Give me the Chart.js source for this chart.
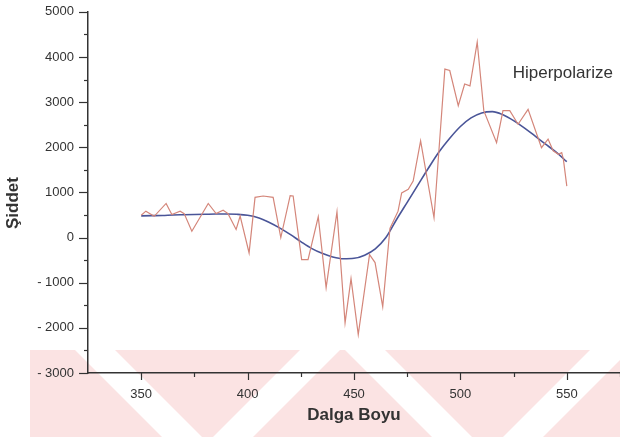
<!DOCTYPE html>
<html>
<head>
<meta charset="utf-8">
<script src="https://cdn.jsdelivr.net/npm/chart.js@4/dist/chart.umd.min.js"></script>
<style>
  html, body { margin: 0; padding: 0; background: #ffffff; }
  #c { display: block; }
</style>
</head>
<body>
<canvas id="c" width="620" height="437"></canvas>
<script>
// Measured spectrum (red)
const wavelength = [350, 352.2, 356.1, 361.7, 364.4, 368.3, 370.2, 373.8, 381.5, 385.2, 388.5, 390.8, 394.6, 396.5, 400.7, 403.5, 407.3, 412, 415.6, 420, 421.4, 425.4, 428.4, 433.2, 436.9, 442, 445.8, 448.6, 452, 457.3, 459.9, 463.5, 466.9, 470.7, 472.4, 475.5, 477.8, 481.3, 487.6, 492.7, 495, 499, 502, 504.5, 507.9, 511, 517, 520, 523.2, 527.1, 531.8, 538.1, 541.2, 543.6, 546, 547.6, 548.4, 550];
const intensity = [495, 585, 470, 755, 510, 585, 530, 140, 755, 530, 605, 530, 180, 475, -340, 890, 920, 890, 0, 930, 920, -490, -490, 460, -1110, 570, -1890, -910, -2150, -380, -555, -1530, 200, 585, 990, 1070, 1250, 2140, 440, 3730, 3700, 2920, 3400, 3360, 4330, 2810, 2100, 2810, 2810, 2510, 2840, 1990, 2180, 1920, 1845, 1880, 1730, 1140];

// Smooth fit (blue)
const fitWavelength = [350, 355, 360, 365, 370, 375, 380, 385, 390, 395, 400, 405, 410, 415, 420, 425, 430, 435, 440, 445, 450, 455, 460, 465, 470, 475, 480, 485, 490, 495, 500, 505, 510, 515, 520, 525, 530, 535, 540, 545, 550];
const fitIntensity = [480, 485, 490, 500, 505, 510, 515, 520, 520, 515, 495, 440, 340, 215, 70, -90, -240, -350, -430, -470, -460, -390, -250, 0, 400, 780, 1160, 1540, 1900, 2200, 2460, 2650, 2760, 2790, 2720, 2590, 2430, 2250, 2070, 1890, 1680];

const yTickValues = [-3000, -2000, -1000, 0, 1000, 2000, 3000, 4000, 5000];
const xTickValues = [350, 400, 450, 500, 550];

const xTitle = 'Dalga Boyu';
const yTitle = 'Şiddet';
const seriesLabel = 'Hiperpolarize';

const TEXT = '#333333';

const decorPlugin = {
  id: 'decor',
  beforeDraw(chart) {
    const ctx = chart.ctx;
    ctx.save();
    ctx.fillStyle = '#ffffff';
    ctx.fillRect(0, 0, chart.width, chart.height);
    // faint scan watermark band at the bottom
    ctx.beginPath();
    ctx.rect(30, 350, 590, 87);
    ctx.clip();
    ctx.fillStyle = '#fbe3e3';
    ctx.fillRect(30, 350, 590, 87);
    ctx.fillStyle = '#ffffff';
    const back = [[75, 40], [345, 40]];
    back.forEach(([x0, w]) => {
      ctx.beginPath();
      ctx.moveTo(x0, 350); ctx.lineTo(x0 + w, 350);
      ctx.lineTo(x0 + w + 87, 437); ctx.lineTo(x0 + 87, 437);
      ctx.closePath(); ctx.fill();
    });
    const fwd = [[300, 40], [590, 40]];
    fwd.forEach(([x0, w]) => {
      ctx.beginPath();
      ctx.moveTo(x0, 350); ctx.lineTo(x0 + w, 350);
      ctx.lineTo(x0 + w - 87, 437); ctx.lineTo(x0 - 87, 437);
      ctx.closePath(); ctx.fill();
    });
    ctx.restore();
  },
  afterDraw(chart) {
    const ctx = chart.ctx;
    const xs = chart.scales.x, ys = chart.scales.y;
    const left = chart.chartArea.left, bottom = chart.chartArea.bottom;
    ctx.save();
    ctx.strokeStyle = '#333333';
    ctx.lineWidth = 1.2;
    for (let v = -3000; v <= 5000; v += 500) {
      const p = Math.round(ys.getPixelForValue(v)) + 0.5;
      const len = (v % 1000 === 0) ? 9 : 4;
      ctx.beginPath(); ctx.moveTo(left - len, p); ctx.lineTo(left, p); ctx.stroke();
    }
    for (let v = 350; v <= 575; v += 25) {
      const p = Math.round(xs.getPixelForValue(v)) + 0.5;
      const len = (v % 50 === 0) ? 7 : 4;
      ctx.beginPath(); ctx.moveTo(p, bottom); ctx.lineTo(p, bottom + len); ctx.stroke();
    }
    ctx.fillStyle = TEXT;
    ctx.font = 'bold 17px "Liberation Sans", Arial, sans-serif';
    ctx.textAlign = 'center';
    ctx.textBaseline = 'middle';
    ctx.fillText(xTitle, 354, 415);
    ctx.save();
    ctx.translate(13, 203);
    ctx.rotate(-Math.PI / 2);
    ctx.fillText(yTitle, 0, 0);
    ctx.restore();
    ctx.font = '17px "Liberation Sans", Arial, sans-serif';
    ctx.textAlign = 'left';
    ctx.textBaseline = 'alphabetic';
    ctx.fillText(seriesLabel, xs.getPixelForValue(524.6), ys.getPixelForValue(3530));
    ctx.restore();
  }
};

new Chart(document.getElementById('c'), {
  type: 'line',
  data: {
    datasets: [
      {
        label: seriesLabel,
        data: wavelength.map((w, i) => ({ x: w, y: intensity[i] })),
        borderColor: '#d4867a',
        borderWidth: 1.2,
        pointRadius: 0,
        tension: 0,
        fill: false
      },
      {
        label: 'Fit',
        data: fitWavelength.map((w, i) => ({ x: w, y: fitIntensity[i] })),
        borderColor: '#4a5598',
        borderWidth: 1.6,
        pointRadius: 0,
        cubicInterpolationMode: 'monotone',
        fill: false
      }
    ]
  },
  options: {
    responsive: false,
    animation: false,
    devicePixelRatio: 1,
    layout: { padding: { top: 6, right: 0, left: 0, bottom: 0 } },
    plugins: { legend: { display: false }, tooltip: { enabled: false } },
    scales: {
      x: {
        type: 'linear',
        min: 325,
        max: 575,
        afterFit(s) { s.height = 64; },
        border: { display: true, color: '#333333', width: 1.5 },
        grid: { display: true, drawOnChartArea: false, drawTicks: true, tickLength: 10, tickColor: 'rgba(0,0,0,0)' },
        afterBuildTicks(s) { s.ticks = xTickValues.map(v => ({ value: v })); },
        ticks: {
          autoSkip: false, maxRotation: 0, padding: 4,
          color: TEXT,
          font: { family: '"Liberation Sans", Arial, sans-serif', size: 13 }
        }
      },
      y: {
        type: 'linear',
        min: -3000,
        max: 5000,
        afterFit(s) { s.width = 88; },
        border: { display: true, color: '#333333', width: 1.5 },
        grid: { display: true, drawOnChartArea: false, drawTicks: true, tickLength: 10, tickColor: 'rgba(0,0,0,0)' },
        afterBuildTicks(s) { s.ticks = yTickValues.map(v => ({ value: v })); },
        ticks: {
          autoSkip: false, padding: 4,
          color: TEXT,
          font: { family: '"Liberation Sans", Arial, sans-serif', size: 13 },
          callback: v => (v < 0 ? '- ' + Math.abs(v) : String(v))
        }
      }
    }
  },
  plugins: [decorPlugin]
});
</script>
</body>
</html>
